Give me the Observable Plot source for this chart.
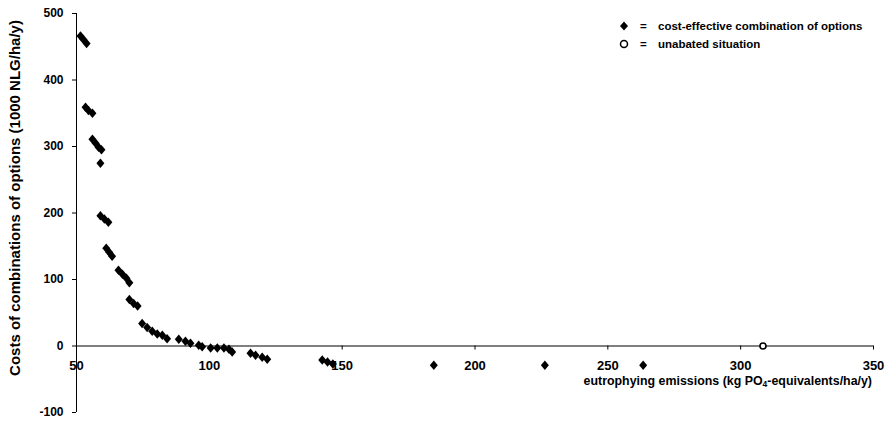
<!DOCTYPE html>
<html>
<head>
<meta charset="utf-8">
<script src="https://cdn.jsdelivr.net/npm/d3@7"></script>
<script src="https://cdn.jsdelivr.net/npm/@observablehq/plot@0.6"></script>
<style>
  html, body { margin: 0; padding: 0; background: #fff; }
  #wrap { position: relative; width: 888px; height: 421px; font-family: "Liberation Sans", Arial, sans-serif; font-weight: bold; color: #000; }
  #wrap svg.plot { position: absolute; left: 0; top: 0; }
  .ylab { position: absolute; left: 14px; top: 198px; transform: translate(-50%, -50%) rotate(-90deg); white-space: nowrap; font-size: 15px; }
  .xlab { position: absolute; right: 16px; top: 374px; white-space: nowrap; font-size: 12.4px; line-height: 14px; }
  .xlab sub { font-size: 8.5px; vertical-align: -2px; line-height: 0; }
  .leg { position: absolute; font-size: 11.5px; white-space: nowrap; line-height: 14px; }
  .leg svg { position: absolute; }
</style>
</head>
<body>
<div id="wrap"></div>
<script>
// Cost-effective combinations of options
const emissions = [51.5, 52.6, 53.8, 53.4, 54.5, 56.0, 56.0, 57.2, 58.3, 59.4, 59.0,
  59.0, 60.5, 62.0, 61.2, 62.3, 63.4, 65.8, 67.3, 68.8, 69.9, 69.9, 71.5, 73.0,
  74.7, 76.6, 78.5, 80.4, 82.3, 84.1, 88.5, 91.0, 92.9, 96.0, 97.3, 100.5, 103.0,
  105.5, 107.4, 108.6, 115.5, 117.4, 119.9, 121.8, 142.5, 144.5, 146.5, 184.5, 226.3, 263.3];
const costs = [466, 461, 455, 359, 354, 350, 311, 305, 299, 295, 275,
  196, 191, 186, 147, 141, 135, 114, 108, 102, 95, 70, 64, 60,
  34, 28, 22, 18, 16, 11, 10, 7, 4, 1, -1, -3, -3,
  -3, -5, -9, -11, -14, -17, -20, -21, -24, -27, -29, -29, -29];
// Unabated situation
const unabatedEmission = [308.4];
const unabatedCost = [0];
// Axis ticks
const xTicks = [50, 100, 150, 200, 250, 300, 350];
const yTicks = [-100, 0, 100, 200, 300, 400, 500];

const costData = emissions.map((e, i) => ({x: e, y: costs[i]}));
const unabatedData = unabatedEmission.map((e, i) => ({x: e, y: unabatedCost[i]}));

const diamond = {
  draw(ctx, size) {
    const r = Math.sqrt(size / Math.PI);
    ctx.moveTo(0, -r * 1.25);
    ctx.lineTo(r * 1.05, 0);
    ctx.lineTo(0, r * 1.25);
    ctx.lineTo(-r * 1.05, 0);
    ctx.closePath();
  }
};

const chart = Plot.plot({
  width: 888,
  height: 421,
  marginLeft: 76,
  marginRight: 15,
  marginTop: 13,
  marginBottom: 9,
  x: {domain: [50, 350], axis: null},
  y: {domain: [-100, 500], axis: null},
  style: {fontFamily: '"Liberation Sans", Arial, sans-serif', fontWeight: "bold", fontSize: "12px", background: "#fff", color: "#000"},
  marks: [
    Plot.ruleX([50], {stroke: "#000", strokeWidth: 1}),
    Plot.axisY(yTicks, {tickSize: 4, tickPadding: 9, tickFormat: d => String(d), label: null, fontSize: 12, stroke: "#000"}),
    Plot.ruleY([0], {stroke: "#000", strokeWidth: 1}),
    Plot.ruleX(xTicks, {x: d => d, y1: () => 0, y2: () => 0, insetBottom: -4, stroke: "#000"}),
    Plot.text(xTicks, {x: d => d, y: () => 0, dy: 20, text: d => String(d), fontSize: 13}),
    Plot.dot(costData, {x: "x", y: "y", symbol: diamond, r: 3.8, fill: "#000", stroke: "none"}),
    Plot.dot(unabatedData, {x: "x", y: "y", r: 3, fill: "#fff", stroke: "#000", strokeWidth: 1.6})
  ]
});
chart.classList.add("plot");
const wrap = document.getElementById("wrap");
wrap.appendChild(chart);

const ylab = document.createElement("div");
ylab.className = "ylab";
ylab.textContent = "Costs of combinations of options (1000 NLG/ha/y)";
wrap.appendChild(ylab);

const xlab = document.createElement("div");
xlab.className = "xlab";
xlab.innerHTML = "eutrophying emissions (kg PO<sub>4</sub>-equivalents/ha/y)";
wrap.appendChild(xlab);

function legendRow(top, symbolSvg, label) {
  const sym = document.createElement("div");
  sym.className = "leg";
  sym.style.left = "618px";
  sym.style.top = (top - 6) + "px";
  sym.innerHTML = symbolSvg;
  wrap.appendChild(sym);
  const eq = document.createElement("div");
  eq.className = "leg";
  eq.style.left = "640px";
  eq.style.top = (top - 7) + "px";
  eq.textContent = "=";
  wrap.appendChild(eq);
  const t = document.createElement("div");
  t.className = "leg";
  t.style.left = "658px";
  t.style.top = (top - 7) + "px";
  t.textContent = label;
  wrap.appendChild(t);
}
legendRow(26, '<svg width="12" height="12" style="left:0;top:0"><path d="M6,1.5L10,6L6,10.5L2,6Z" fill="#000"/></svg>', "cost-effective combination of options");
legendRow(44, '<svg width="12" height="12" style="left:0;top:0"><circle cx="6" cy="6" r="3.5" fill="#fff" stroke="#000" stroke-width="1.5"/></svg>', "unabated situation");
</script>
</body>
</html>
